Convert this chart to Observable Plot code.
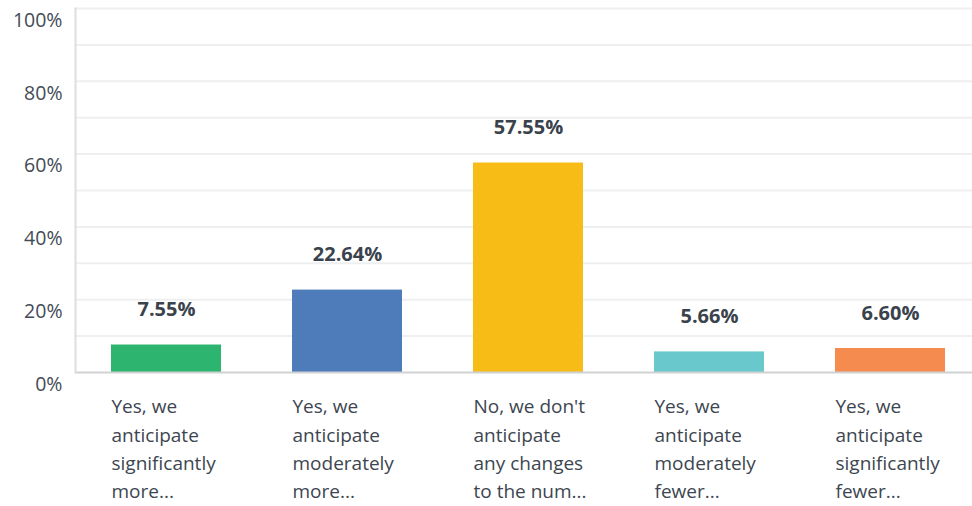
<!DOCTYPE html>
<html>
<head>
<meta charset="utf-8">
<script src="https://cdn.jsdelivr.net/npm/d3@7"></script>
<script src="https://cdn.jsdelivr.net/npm/@observablehq/plot@0.6"></script>
<style>
  html, body { margin: 0; padding: 0; background: #fff; }
  #chart svg { display: block; }
</style>
</head>
<body>
<div id="chart"></div>
<script>
const categories = [
  "Yes, we\nanticipate\nsignificantly\nmore...",
  "Yes, we\nanticipate\nmoderately\nmore...",
  "No, we don't\nanticipate\nany changes\nto the num...",
  "Yes, we\nanticipate\nmoderately\nfewer...",
  "Yes, we\nanticipate\nsignificantly\nfewer..."
];
const values = [7.55, 22.64, 57.55, 5.66, 6.60];
const colors = ["#2db46e", "#4e7cba", "#f7bd16", "#69c8cb", "#f58b4f"];
const yTickLabels = [0, 20, 40, 60, 80, 100];
const gridTicks = [10, 20, 30, 40, 50, 60, 70, 80, 90, 100];

const data = categories.map((c, i) => ({category: c, value: values[i], color: colors[i]}));

const chart = Plot.plot({
  width: 972,
  height: 506,
  marginTop: 8,
  marginBottom: 134,
  marginLeft: 75,
  marginRight: 0,
  style: {fontFamily: "'Open Sans', 'Noto Sans', sans-serif", background: "#fff"},
  x: {domain: categories, range: [76, 981], paddingInner: 0.39, paddingOuter: 0.195, axis: null},
  y: {domain: [0, 100], axis: null},
  marks: [
    Plot.ruleY(gridTicks, {stroke: "#edeff0", strokeWidth: 2, strokeOpacity: 1}),
    Plot.barY(data, {x: "category", y: "value", fill: "color"}),
    Plot.ruleY([0], {stroke: "#cfd1d2", strokeWidth: 2}),
    Plot.frame({anchor: "left", stroke: "#dcdedf", strokeWidth: 2}),
    Plot.text(yTickLabels, {
      x: null, y: d => d, frameAnchor: "left", dx: -13, dy: 12,
      text: d => d + "%", textAnchor: "end", fontSize: 19.5, fill: "#434b55"
    }),
    Plot.text(data, {
      x: "category", y: "value", text: d => d.value.toFixed(2) + "%",
      dy: -35, fontSize: 20, fontWeight: "bold", fill: "#3a424c"
    }),
    Plot.text(data, {
      x: "category", y: 0, text: "category",
      textAnchor: "start", dx: -55, dy: 21, lineAnchor: "top",
      lineHeight: 1.48, fontSize: 19, fill: "#3d4650"
    })
  ]
});
document.getElementById("chart").appendChild(chart);
</script>
</body>
</html>
